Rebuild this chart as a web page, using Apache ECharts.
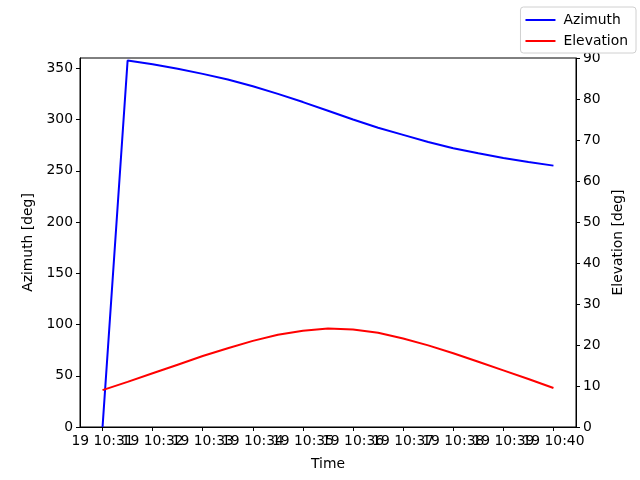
<!DOCTYPE html>
<html>
<head>
<meta charset="UTF-8">
<script src="https://cdn.jsdelivr.net/npm/echarts@6/dist/echarts.min.js"></script>
<style>
  html, body { margin: 0; padding: 0; background: #fff; }
</style>
</head>
<body>
<div id="main" style="width: 640px; height: 480px;"></div>
<script>
    var times = ['10:31:00', '10:31:30', '10:32:00', '10:32:30', '10:33:00', '10:33:30', '10:34:00',
        '10:34:30', '10:35:00', '10:35:30', '10:36:00', '10:36:30', '10:37:00', '10:37:30',
        '10:38:00', '10:38:30', '10:39:00', '10:39:30', '10:40:00'];
    var azimuth = [0, 357.5, 354, 349.5, 344.5, 339, 332.5, 325, 317, 308.5, 300, 292,
        285, 278, 272, 267, 262.5, 258.5, 255];
    var elevation = [9, 11, 13.1, 15.2, 17.3, 19.2, 21, 22.5, 23.5, 24, 23.8, 23.0,
        21.6, 19.9, 18, 15.9, 13.8, 11.7, 9.5];
    // minute ticks (minutes of day), split in two sets so echarts does not drop overlapping labels
    var xTicksOdd = [631, 633, 635, 637, 639];
    var xTicksEven = [632, 634, 636, 638, 640];
    var azTicks = [0, 50, 100, 150, 200, 250, 300, 350];

    function toMinutes(t) {
        var p = t.split(':');
        return +p[0] * 60 + +p[1] + +p[2] / 60;
    }
    function pad(n) { return (n < 10 ? '0' : '') + n; }

    var azData = [], elData = [];
    times.forEach(function (t, i) {
        azData.push([toMinutes(t), azimuth[i]]);
        elData.push([toMinutes(t), elevation[i]]);
    });

    var font = 'DejaVu Sans';
    var fs = 13.9;
    var tick = { show: true, inside: false, length: 4, lineStyle: { color: '#000', width: 1 } };
    var axisBase = {
        axisLine: { show: true, onZero: false, lineStyle: { color: '#000', width: 1 } },
        splitLine: { show: false },
        nameTextStyle: { color: '#000', fontFamily: font, fontSize: fs }
    };

    function timeAxis(ticks, withName) {
        return Object.assign({}, axisBase, {
            type: 'value',
            min: 630.55,
            max: 640.45,
            position: 'bottom',
            name: withName ? 'Time' : '',
            nameLocation: 'middle',
            nameGap: 30,
            axisTick: Object.assign({}, tick, { customValues: ticks }),
            axisLabel: {
                color: '#000', fontFamily: font, fontSize: fs, margin: 7,
                customValues: ticks,
                hideOverlap: false,
                showMinLabel: true,
                showMaxLabel: true,
                formatter: function (v) {
                    var m = Math.round(v);
                    return '19 ' + Math.floor(m / 60) + ':' + pad(m % 60);
                }
            }
        });
    }

    var mychart = echarts.init(document.getElementById('main'));
    var option = {
        animation: false,
        backgroundColor: '#fff',
        grid: { left: 80, right: 64, top: 58, bottom: 53, show: true, borderColor: '#000', borderWidth: 1 },
        legend: {
            orient: 'vertical',
            right: 4,
            top: 7,
            backgroundColor: '#fff',
            borderColor: '#d0d0d0',
            borderWidth: 1,
            borderRadius: 3,
            padding: [6, 8, 5, 5],
            itemGap: 7,
            itemWidth: 30,
            itemHeight: 2,
            icon: 'rect',
            textStyle: { color: '#000', fontFamily: font, fontSize: fs, padding: [0, 0, 0, 3] },
            data: ['Azimuth', 'Elevation']
        },
        xAxis: [timeAxis(xTicksOdd, true), timeAxis(xTicksEven, false)],
        yAxis: [
            Object.assign({}, axisBase, {
                type: 'value',
                min: 0,
                max: 360,
                position: 'left',
                name: 'Azimuth [deg]',
                nameLocation: 'middle',
                nameGap: 42,
                nameRotate: 90,
                axisTick: Object.assign({}, tick, { customValues: azTicks }),
                axisLabel: { color: '#000', fontFamily: font, fontSize: fs, margin: 7, customValues: azTicks }
            }),
            Object.assign({}, axisBase, {
                type: 'value',
                min: 0,
                max: 90,
                interval: 10,
                position: 'right',
                name: 'Elevation [deg]',
                nameLocation: 'middle',
                nameGap: 32,
                nameRotate: 90,
                axisTick: tick,
                axisLabel: { color: '#000', fontFamily: font, fontSize: fs, margin: 7 }
            })
        ],
        series: [
            {
                name: 'Azimuth',
                type: 'line',
                data: azData,
                showSymbol: false,
                color: '#0000ff',
                lineStyle: { color: '#0000ff', width: 2 },
                xAxisIndex: 0,
                yAxisIndex: 0
            },
            {
                name: 'Elevation',
                type: 'line',
                data: elData,
                showSymbol: false,
                color: '#ff0000',
                lineStyle: { color: '#ff0000', width: 2 },
                xAxisIndex: 0,
                yAxisIndex: 1
            }
        ]
    };
    mychart.setOption(option);
</script>
</body>
</html>
